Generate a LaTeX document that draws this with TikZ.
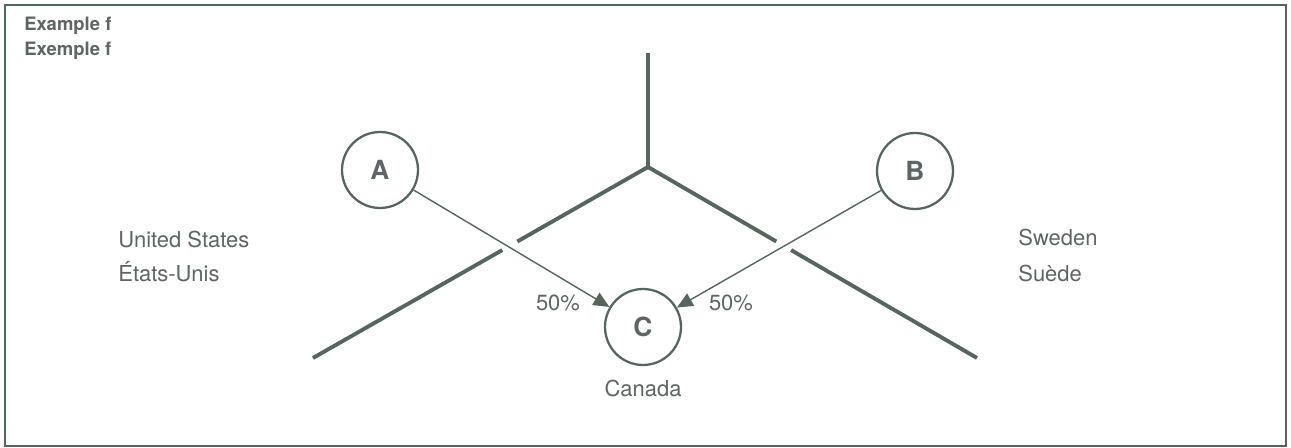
\documentclass[tikz,border=0pt]{standalone}
\usepackage{fontspec}
\setmainfont{TeX Gyre Heros}
\usetikzlibrary{arrows.meta,calc}
\definecolor{ink}{RGB}{88,100,94}
\definecolor{txt}{RGB}{95,100,100}

\begin{document}
\begin{tikzpicture}[x=0.02cm,y=-0.02cm,
  country/.style={circle,draw=ink,line width=1.3pt,minimum size=1.52cm,inner sep=0pt,
    font=\fontsize{15}{17}\selectfont\bfseries,text=txt},
  flow/.style={draw=ink,line width=0.8pt,-{Triangle[length=9pt,width=8pt]}},
  border/.style={draw=ink,line width=1.4pt},
  place/.style={text=txt,font=\fontsize{12.5}{15}\selectfont,anchor=west,inner sep=0pt},
  share/.style={text=txt,font=\fontsize{12.5}{15}\selectfont,inner sep=0pt},
  title/.style={text=txt,font=\fontsize{10.5}{12}\selectfont\bfseries,anchor=west,inner sep=0pt}]
\useasboundingbox (0,0) rectangle (1291,448);
\draw[border] (5,5) rectangle (1286,446);
\node[title] (en) at (24,26) {Example f};
\node[title] (fr) at (24,51) {Exemple f};
% the border lines
\coordinate (hub) at (648,167);
\coordinate (top) at (648,53);
\coordinate (lend) at (313,358);
\coordinate (rend) at (977,358);
\draw[ink,line width=2.2pt] (top) -- (hub);
\draw[ink,line width=2.2pt] (hub) -- ($(hub)!0.39!(lend)$);
\draw[ink,line width=2.2pt] ($(hub)!0.435!(lend)$) -- (lend);
\draw[ink,line width=2.2pt] (hub) -- ($(hub)!0.39!(rend)$);
\draw[ink,line width=2.2pt] ($(hub)!0.435!(rend)$) -- (rend);
% countries
\node[country] (A) at (380,170) {A};
\node[country] (B) at (915,171) {B};
\node[country] (C) at (643,327) {C};
\draw[flow] (A) -- (C);
\draw[flow] (B) -- (C);
\node[share] (pa) at (558,303) {50\%};
\node[share] (pb) at (731,303) {50\%};
\node[share] (ca) at (643,388) {Canada};
\node[place] (us) at (118,240) {United States};
\node[place] (eu) at (118,272) {États-Unis};
\node[place] (se) at (1018,238) {Sweden};
\node[place] (su) at (1018,273) {Suède};
\end{tikzpicture}
\end{document}
